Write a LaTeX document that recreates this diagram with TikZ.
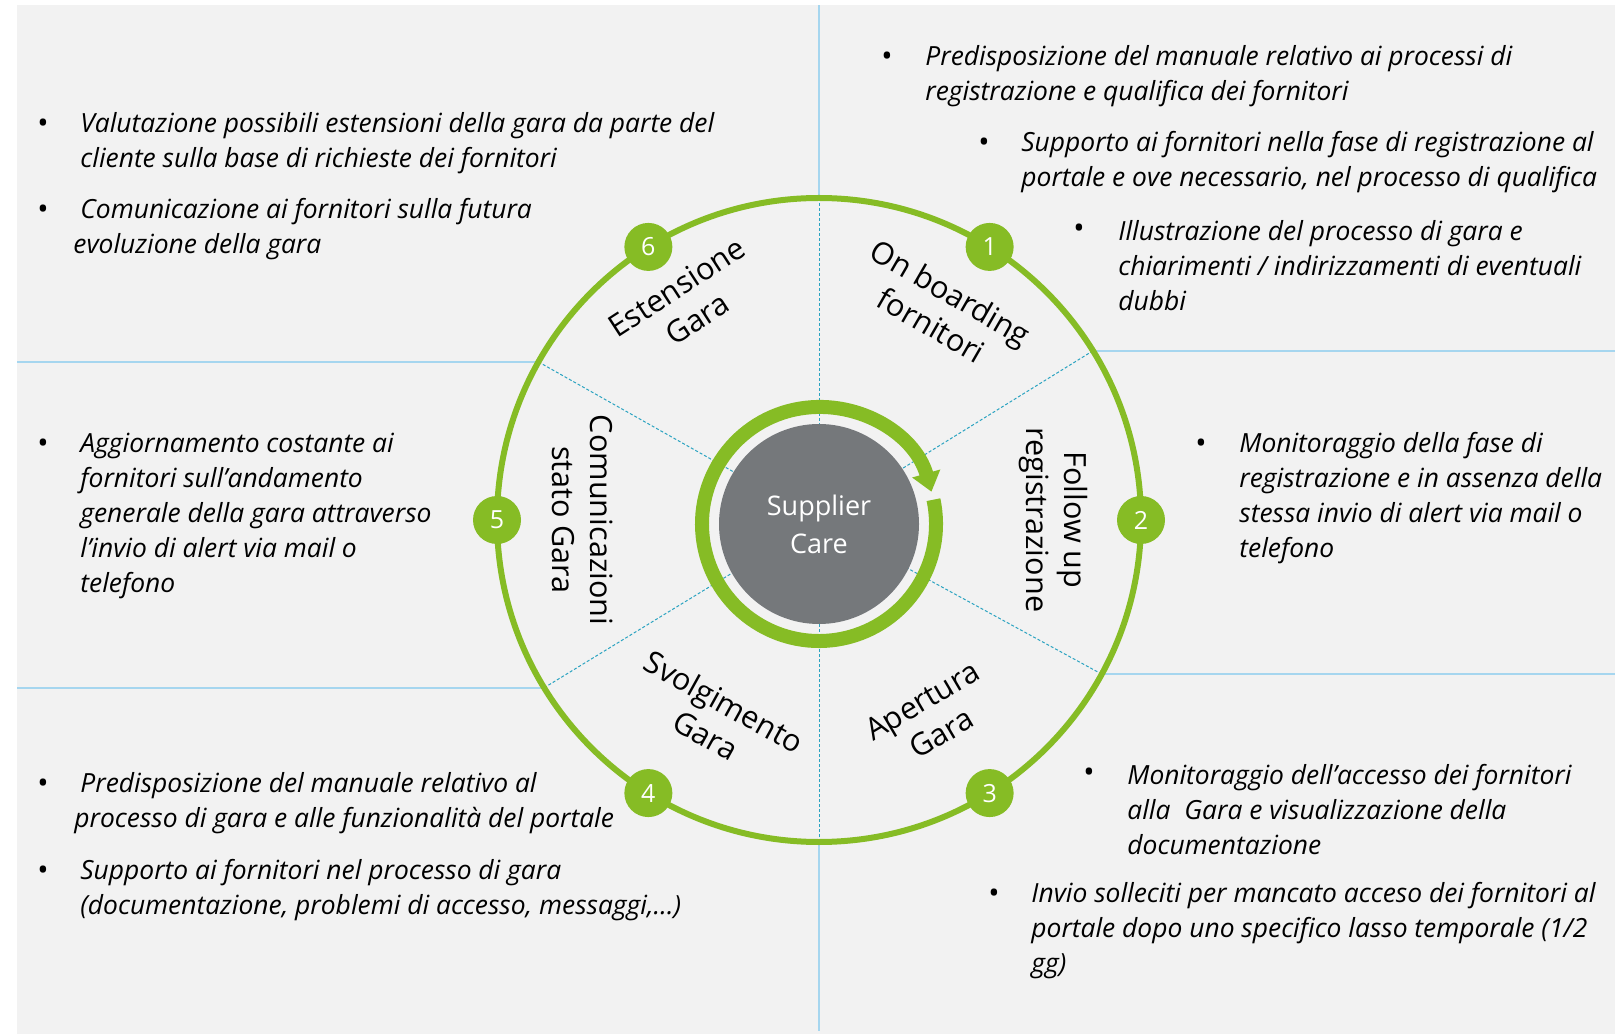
\documentclass[tikz,border=0pt]{standalone}
\usepackage{fontspec}
\setmainfont{Open Sans}
\usetikzlibrary{arrows.meta}
\definecolor{bggrey}{HTML}{F2F2F2}
\definecolor{caregreen}{HTML}{86BC25}
\definecolor{caregrey}{HTML}{75787B}
\definecolor{lineblue}{RGB}{166,214,239}
\definecolor{dashteal}{RGB}{43,163,193}
\begin{document}
\begin{tikzpicture}
	[x=0.5pt,y=0.5pt,
	numnode/.style={circle,fill=caregreen,text=white,minimum size=24pt,inner sep=0pt,font=\fontsize{12.5}{14}\selectfont},
	phaselabel/.style={align=center,inner sep=0pt,font=\fontsize{15.3}{19}\selectfont},
	itemtext/.style={anchor=west,align=left,inner sep=0pt,font=\itshape\fontsize{13.2}{17.5}\selectfont},
	bulletdot/.style={inner sep=0pt,font=\fontsize{15}{16}\selectfont},
	bluerule/.style={draw=lineblue,line width=1.2pt},
	tealrule/.style={draw=dashteal,line width=0.5pt,dash pattern=on 1.5pt off 1pt}]
	\useasboundingbox (0,0) rectangle (1615,1034);
	\fill[bggrey] (17,0) rectangle (1615,1029);
	\coordinate (c) at (819,514);
	\coordinate (cc) at (819,510);
	% dividers
	\foreach \a/\n in {90/T,270/B,31.7/RU,-28.6/RL,150.6/LU,211.4/LL}
		\path (c) ++(\a:322) coordinate (d\n);
	\coordinate (eT) at (dT |- 0,1029);
	\coordinate (eB) at (dB |- 0,3);
	\coordinate (eRU) at (dRU -| 1615,0);
	\coordinate (eRL) at (dRL -| 1615,0);
	\coordinate (eLU) at (dLU -| 17,0);
	\coordinate (eLL) at (dLL -| 17,0);
	\foreach \n in {T,B,RU,RL,LU,LL}
	{
		\draw[tealrule] (d\n) -- (c);
		\draw[bluerule] (d\n) -- (e\n);
	}
	% ring and phases
	\draw[caregreen,line width=3pt] (c) circle[radius=322];
	\foreach \a/\k in {58/1,0/2,-58/3,238/4,180/5,122/6}
		\path (c) ++(\a:322) node[numnode] (n\k) {\k};
	\path (c) ++(60:244) node[phaselabel,rotate=-30] (p1) {On boarding\\fornitori};
	\path (c) ++(0:234) node[phaselabel,rotate=-90] (p2) {Follow up\\registrazione};
	\path (c) ++(-60.2:227) node[phaselabel,rotate=30.5] (p3) {Apertura\\Gara};
	\path (c) ++(242.3:224) node[phaselabel,rotate=-29] (p4) {Svolgimento\\Gara};
	\path (c) ++(180:236) node[phaselabel,rotate=-90] (p5) {Comunicazioni\\stato Gara};
	\path (c) ++(121.3:254) node[phaselabel,rotate=33] (p6) {Estensione\\Gara};
	% centre
	\node[circle,fill=caregrey,minimum size=100pt,inner sep=0pt,text=white,align=center,
		font=\fontsize{13.5}{19}\selectfont] (core) at (cc) {Supplier\\Care};
	\draw[caregreen,line width=7pt,-{Triangle[width=14pt,length=9.5pt]}]
		(cc) ++(12:117) arc[start angle=12,end angle=-344,radius=117];
	% top left
	\node[bulletdot] (b1) at (43,908) {•};
	\node[itemtext] (t1) at (80,890.5) {Valutazione possibili estensioni della gara da parte del\\cliente sulla base di richieste dei fornitori};
	\node[bulletdot] (b2) at (43,822) {•};
	\node[itemtext] (t2) at (73,804.5) {\hspace{3.5pt}Comunicazione ai fornitori sulla futura\\evoluzione della gara};
	% left
	\node[bulletdot] (b3) at (43,588) {•};
	\node[itemtext] (t3) at (80,518) {Aggiornamento costante ai\\fornitori sull’andamento\\generale della gara attraverso\\l’invio di alert via mail o\\telefono};
	% bottom left
	\node[bulletdot] (b4) at (43,248) {•};
	\node[itemtext] (t4) at (74,230.5) {\hspace{3pt}Predisposizione del manuale relativo al\\processo di gara e alle funzionalità del portale};
	\node[bulletdot] (b5) at (43,161) {•};
	\node[itemtext] (t5) at (80,143.5) {Supporto ai fornitori nel processo di gara\\(documentazione, problemi di accesso, messaggi,…)};
	% top right
	\node[bulletdot] (b6) at (887,975) {•};
	\node[itemtext] (t6) at (925,957.5) {Predisposizione del manuale relativo ai processi di\\registrazione e qualifica dei fornitori};
	\node[bulletdot] (b7) at (984,889) {•};
	\node[itemtext] (t7) at (1021,871.5) {Supporto ai fornitori nella fase di registrazione al\\portale e ove necessario, nel processo di qualifica};
	\node[bulletdot] (b8) at (1079,803) {•};
	\node[itemtext] (t8) at (1118,768) {Illustrazione del processo di gara e\\chiarimenti / indirizzamenti di eventuali\\dubbi};
	% right
	\node[bulletdot] (b9) at (1201,588) {•};
	\node[itemtext] (t9) at (1239,535.5) {Monitoraggio della fase di\\registrazione e in assenza della\\stessa invio di alert via mail o\\telefono};
	% bottom right
	\node[bulletdot] (b10) at (1089,259) {•};
	\node[itemtext] (t10) at (1127,224) {Monitoraggio dell’accesso dei fornitori\\alla~ Gara e visualizzazione della\\documentazione};
	\node[bulletdot] (b11) at (994,138) {•};
	\node[itemtext] (t11) at (1031,103) {Invio solleciti per mancato acceso dei fornitori al\\portale dopo uno specifico lasso temporale (1/2\\gg)};
\end{tikzpicture}
\end{document}
